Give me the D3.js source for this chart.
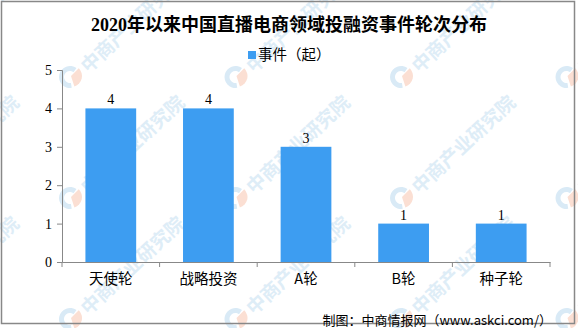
<!DOCTYPE html>
<html>
<head>
    <meta charset='utf-8'>
    <title>2020年以来中国直播电商领域投融资事件轮次分布</title>
    <style>
        body { margin: 0; background: #fff; }
        svg { display: block; }
    </style>
</head>
<body>
<svg width="578" height="328"></svg>
<script src="https://d3js.org/d3.v7.min.js"></script>
<script>
    const title = "2020年以来中国直播电商领域投融资事件轮次分布"
    const seriesName = "事件（起）"
    const categories = ["天使轮", "战略投资", "A轮", "B轮", "种子轮"]
    const values = [4, 4, 3, 1, 1]
    const yTicks = [0, 1, 2, 3, 4, 5]
    const source = "制图：中商情报网（www.askci.com/）"

    const width = 578
    const height = 328
    const margin = {top: 70, right: 28, bottom: 66, left: 62}
    const barColor = "#3d9df1"
    const cjk = "'Noto Sans CJK SC', sans-serif"
    const serif = "'Liberation Serif', 'Noto Sans CJK SC', serif"

    const svg = d3.select("svg")

    // watermark, clipped to the page
    svg.append("clipPath").attr("id", "page")
        .append("rect").attr("width", width).attr("height", height)
    const wm = svg.append("g").attr("class", "watermark").attr("clip-path", "url(#page)")
    const wmCols = d3.range(-1, 4).map(i => 70 + i * 165.5)
    const wmRows = d3.range(-1, 3).map(i => 77 + i * 121)
    wmRows.forEach(y => wmCols.forEach(x => {
        const g = wm.append("g").attr("transform", `translate(${x},${y})`)
        g.append("path")
            .attr("d", d3.arc()({innerRadius: 6, outerRadius: 11, startAngle: Math.PI * 0.95, endAngle: Math.PI * 2.2}))
            .attr("fill", "#d9eaf6")
        g.append("path")
            .attr("d", d3.arc()({innerRadius: 0, outerRadius: 11, startAngle: Math.PI * 0.25, endAngle: Math.PI * 0.9}))
            .attr("fill", "#fbdfd3")
            .attr("transform", "translate(1,-1)")
        g.append("text")
            .attr("transform", "translate(14,-8) rotate(-43)")
            .attr("font-family", cjk)
            .attr("font-weight", "bold")
            .attr("font-size", 19)
            .attr("fill", "#deedf7")
            .attr("dy", "0.35em")
            .text("中商产业研究院")
    }))

    // frame
    svg.append("rect")
        .attr("x", 1.5).attr("y", 1.5)
        .attr("width", 573).attr("height", 322)
        .attr("fill", "none")
        .attr("stroke", "#888")
        .attr("stroke-width", 1.5)

    svg.append("text")
        .attr("x", 289).attr("y", 31)
        .attr("text-anchor", "middle")
        .attr("font-family", serif)
        .attr("font-weight", "bold")
        .attr("font-size", 18)
        .attr("fill", "#000")
        .text(title)

    // legend
    svg.append("rect")
        .attr("x", 248).attr("y", 51)
        .attr("width", 8).attr("height", 8)
        .attr("fill", barColor)
    svg.append("text")
        .attr("x", 258).attr("y", 55)
        .attr("dy", "0.35em")
        .attr("font-family", cjk)
        .attr("font-size", 14.5)
        .text(seriesName)

    const x = d3.scaleBand()
        .domain(categories)
        .range([margin.left, width - margin.right])
        .paddingInner(0.48)
        .paddingOuter(0.24)

    const y = d3.scaleLinear()
        .domain([0, 5])
        .range([height - margin.bottom, margin.top])

    const xAxis = d3.scaleBand()
        .domain(categories)
        .range([margin.left, width - margin.right])

    // y axis
    const ya = svg.append("g")
        .attr("transform", `translate(${margin.left},0)`)
        .call(d3.axisLeft(y).tickValues(yTicks).tickSize(5).tickPadding(5).tickFormat(d3.format("d")))
    ya.selectAll("path, line").attr("stroke", "#888")
    ya.selectAll("text")
        .attr("font-family", serif)
        .attr("font-size", 14)
        .attr("fill", "#000")

    // bars
    svg.append("g")
        .attr("fill", barColor)
        .selectAll("rect")
        .data(values)
        .join("rect")
        .attr("x", (d, i) => x(categories[i]))
        .attr("y", d => y(d))
        .attr("width", x.bandwidth())
        .attr("height", d => y(0) - y(d))

    svg.append("g")
        .attr("text-anchor", "middle")
        .attr("font-family", serif)
        .attr("font-size", 14)
        .selectAll("text")
        .data(values)
        .join("text")
        .attr("x", (d, i) => x(categories[i]) + x.bandwidth() / 2)
        .attr("y", d => y(d) - 4)
        .text(d => d)

    // x axis
    const xa = svg.append("g")
        .attr("transform", `translate(0,${y(0)})`)
        .call(d3.axisBottom(xAxis).tickSize(0).tickPadding(12))
    xa.select(".domain").attr("stroke", "#888")
    xa.selectAll("text")
        .attr("font-family", cjk)
        .attr("font-size", 14.5)
        .attr("fill", "#000")
    xa.selectAll(".sep")
        .data(d3.range(categories.length + 1))
        .join("line")
        .attr("class", "sep")
        .attr("x1", i => margin.left + i * xAxis.step())
        .attr("x2", i => margin.left + i * xAxis.step())
        .attr("y1", 0).attr("y2", 5)
        .attr("stroke", "#888")

    svg.append("text")
        .attr("x", 552).attr("y", 320)
        .attr("dy", "0.35em")
        .attr("text-anchor", "end")
        .attr("font-family", cjk)
        .attr("font-size", 13)
        .text(source)
</script>
</body>
</html>
